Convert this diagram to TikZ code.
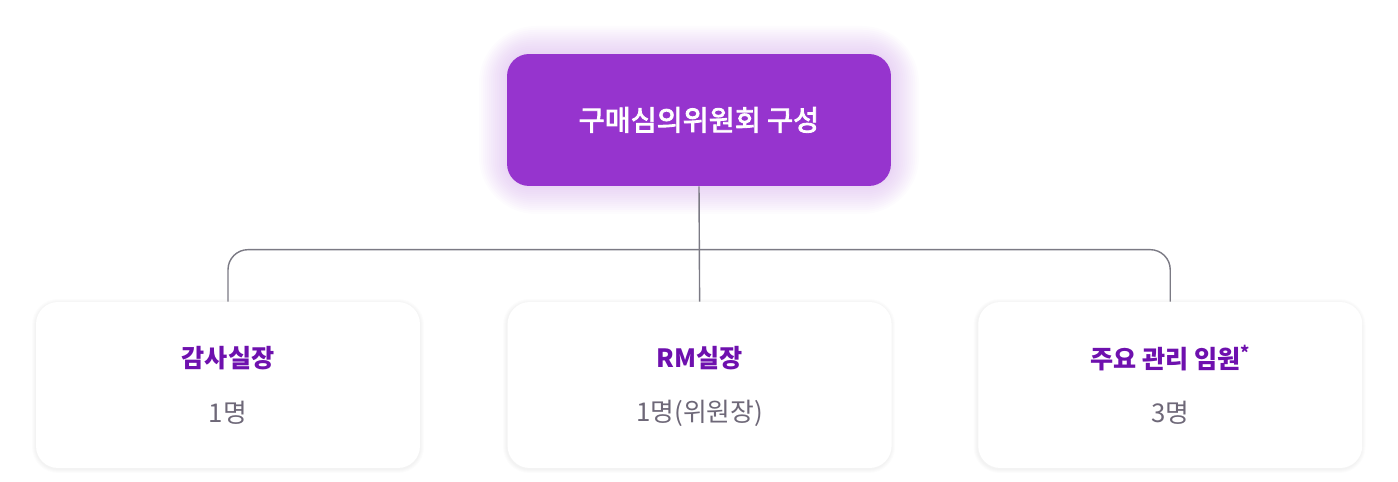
\documentclass[tikz,border=0pt]{standalone}
\usepackage{fontspec}
\setmainfont{Noto Sans CJK KR}
\newfontfamily\mediumfont[FakeBold=3]{Noto Sans CJK KR}
\usetikzlibrary{positioning}

\definecolor{boardpurple}{HTML}{9634CE}
\definecolor{rolepurple}{HTML}{6E10AE}
\definecolor{countgray}{HTML}{6E6878}
\definecolor{linegray}{HTML}{7B7A84}

\begin{document}
\begin{tikzpicture}[x=0.02cm, y=0.02cm,
    board/.style={fill=boardpurple, rounded corners=0.44cm, minimum width=7.68cm, minimum height=2.64cm,
        text=white, font=\mediumfont\fontsize{16.1}{18}\selectfont},
    member/.style={fill=white, rounded corners=0.44cm, minimum width=7.68cm, minimum height=3.32cm},
    role/.style={text=rolepurple, font=\fontsize{14.3}{16}\selectfont\bfseries},
    headcount/.style={text=countgray, font=\fontsize{14.7}{16}\selectfont},
    link/.style={linegray, line width=0.8pt, rounded corners=0.4cm}]
    \useasboundingbox (0,0) rectangle (1398,482);
    % glow behind the board box
    \foreach \g in {1,...,14}
        \fill[boardpurple, opacity=0.015, rounded corners={(22+2.5*\g)*0.02cm}]
            (507-2*\g, 296-2*\g) rectangle (891+2*\g, 428+2*\g);
    % soft shadows of the member boxes
    \foreach \cx in {228, 699, 1169.5}
        \foreach \g in {1,...,4}
            \fill[black, opacity=0.012, rounded corners={(22+\g)*0.02cm}]
                (\cx-192-\g, 14-\g-1) rectangle (\cx+192+\g, 180+\g-1);
    \node[board] (board) at (699,362) {구매심의위원회 구성};
    \node[member] (audit) at (228,97) {};
    \node[member, right=1.74cm of audit] (rm) {};
    \node[member, right=1.72cm of rm] (exec) {};
    \foreach \m/\r/\c in {audit/감사실장/1명, rm/RM실장/1명(위원장), exec/{주요 관리 임원\textsuperscript{*}}/3명} {
        \node[role] (\m-role) at ([yshift=0.54cm]\m.center) {\r};
        \node[headcount] (\m-count) at ([yshift=-0.56cm]\m.center) {\c};
    }
    \draw[link] (board.south) -- (rm.north);
    \draw[link] (audit.north) -- ++(0,52) -| (exec.north);
\end{tikzpicture}
\end{document}
